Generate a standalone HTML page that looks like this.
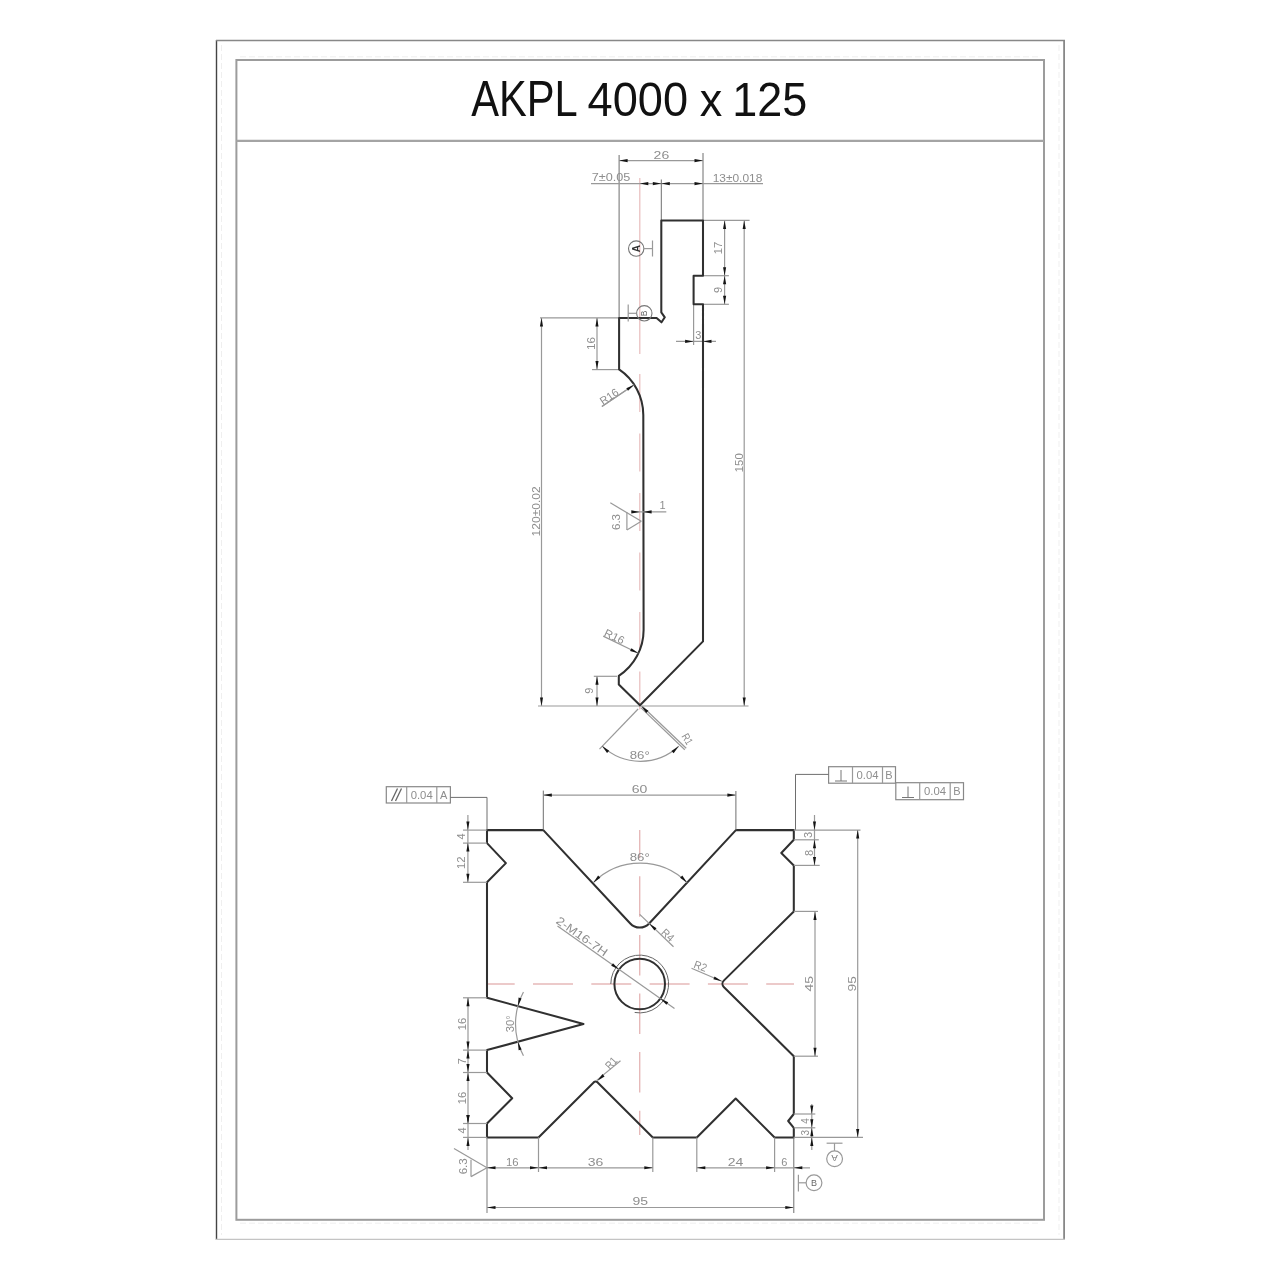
<!DOCTYPE html>
<html><head><meta charset="utf-8"><style>
html,body{margin:0;padding:0;background:#fff;}
svg{display:block;will-change:transform;}
text{font-family:"Liberation Sans",sans-serif;}
</style></head><body>
<svg width="1280" height="1280" viewBox="0 0 1280 1280">
<rect width="1280" height="1280" fill="#fff"/>
<line x1="216.5" y1="40" x2="216.5" y2="1240" stroke="#444" stroke-width="1.4"/><line x1="216" y1="40.5" x2="1065" y2="40.5" stroke="#888" stroke-width="1.3"/><line x1="1064.1" y1="40" x2="1064.1" y2="1240" stroke="#888" stroke-width="1.8"/><line x1="216" y1="1239.4" x2="1065" y2="1239.4" stroke="#c4c4c4" stroke-width="1.3"/><line x1="240" y1="56.8" x2="1040" y2="56.8" stroke="#efefef" stroke-width="1" fill="none" stroke-dasharray="6,3"/><line x1="240" y1="1223.2" x2="1040" y2="1223.2" stroke="#efefef" stroke-width="1" fill="none" stroke-dasharray="6,3"/><line x1="221.5" y1="45" x2="221.5" y2="1235" stroke="#efefef" stroke-width="1" fill="none" stroke-dasharray="6,3"/><line x1="1059" y1="45" x2="1059" y2="1235" stroke="#efefef" stroke-width="1" fill="none" stroke-dasharray="6,3"/><rect x="236.4" y="60" width="807.6" height="1159.8" stroke="#9c9c9c" stroke-width="2" fill="none"/><line x1="236.4" y1="140.9" x2="1044" y2="140.9" stroke="#a4a4a4" stroke-width="2.2"/><text x="471.2" y="115.8" font-size="49.5" fill="#111" font-family="Liberation Sans" textLength="106.5" lengthAdjust="spacingAndGlyphs">AKPL</text><text x="587.6" y="115.8" font-size="47.3" fill="#111" font-family="Liberation Sans" textLength="100.5" lengthAdjust="spacingAndGlyphs">4000</text><text x="699.8" y="115.8" font-size="46.5" fill="#111" font-family="Liberation Sans" textLength="22.5" lengthAdjust="spacingAndGlyphs">x</text><text x="732.2" y="115.8" font-size="47.3" fill="#111" font-family="Liberation Sans" textLength="75" lengthAdjust="spacingAndGlyphs">125</text><line x1="639.8" y1="178" x2="639.8" y2="354" stroke="#e8bcbc" stroke-width="1.2" fill="none"/><line x1="639.8" y1="374" x2="639.8" y2="722" stroke="#e8bcbc" stroke-width="1.2" fill="none" stroke-dasharray="38,21.5"/><line x1="619.1" y1="155" x2="619.1" y2="317.9" stroke="#6e6e6e" stroke-width="1" fill="none"/><line x1="703" y1="153" x2="703" y2="220.4" stroke="#6e6e6e" stroke-width="1" fill="none"/><line x1="619.1" y1="160.6" x2="703" y2="160.6" stroke="#999" stroke-width="1.2" fill="none"/><polygon points="619.1,160.6 627.6,159.05 627.6,162.15" fill="#151515"/><polygon points="703,160.6 694.5,162.15 694.5,159.05" fill="#151515"/><text x="661.4" y="159.16" font-size="11" text-anchor="middle" fill="#8e8e8e" font-family="Liberation Sans" textLength="15.6" lengthAdjust="spacingAndGlyphs">26</text><line x1="591" y1="183.6" x2="763" y2="183.6" stroke="#999" stroke-width="1.2" fill="none"/><line x1="661.3" y1="179.5" x2="661.3" y2="220.4" stroke="#6e6e6e" stroke-width="1" fill="none"/><polygon points="639.8,183.6 648.3,182.05 648.3,185.15" fill="#151515"/><polygon points="661.3,183.6 652.8,185.15 652.8,182.05" fill="#151515"/><polygon points="661.3,183.6 669.8,182.05 669.8,185.15" fill="#151515"/><polygon points="703,183.6 694.5,185.15 694.5,182.05" fill="#151515"/><text x="611" y="181.36" font-size="11" text-anchor="middle" fill="#8e8e8e" font-family="Liberation Sans" textLength="38.6" lengthAdjust="spacingAndGlyphs">7±0.05</text><text x="737.5" y="181.76" font-size="11" text-anchor="middle" fill="#8e8e8e" font-family="Liberation Sans" textLength="49.7" lengthAdjust="spacingAndGlyphs">13±0.018</text><line x1="703" y1="220.4" x2="749.6" y2="220.4" stroke="#999" stroke-width="1.2" fill="none"/><line x1="703" y1="275.7" x2="728.9" y2="275.7" stroke="#999" stroke-width="1.2" fill="none"/><line x1="703" y1="304.3" x2="728.9" y2="304.3" stroke="#999" stroke-width="1.2" fill="none"/><line x1="724.6" y1="220.4" x2="724.6" y2="304.3" stroke="#999" stroke-width="1.2" fill="none"/><polygon points="724.6,220.4 726.15,228.9 723.05,228.9" fill="#151515"/><polygon points="724.6,275.7 723.05,267.2 726.15,267.2" fill="#151515"/><polygon points="724.6,275.7 726.15,284.2 723.05,284.2" fill="#151515"/><polygon points="724.6,304.3 723.05,295.8 726.15,295.8" fill="#151515"/><text x="717.9" y="251.96" font-size="11" text-anchor="middle" fill="#8e8e8e" font-family="Liberation Sans" transform="rotate(-90 717.9 248)" textLength="12.6" lengthAdjust="spacingAndGlyphs">17</text><text x="717.9" y="293.96" font-size="11" text-anchor="middle" fill="#8e8e8e" font-family="Liberation Sans" transform="rotate(-90 717.9 290)">9</text><line x1="744.2" y1="220.4" x2="744.2" y2="706" stroke="#999" stroke-width="1.2" fill="none"/><polygon points="744.2,220.4 745.75,228.9 742.65,228.9" fill="#151515"/><polygon points="744.2,706 742.65,697.5 745.75,697.5" fill="#151515"/><text x="739.4" y="466.66" font-size="11" text-anchor="middle" fill="#8e8e8e" font-family="Liberation Sans" transform="rotate(-90 739.4 462.7)" textLength="19" lengthAdjust="spacingAndGlyphs">150</text><line x1="693.6" y1="304.3" x2="693.6" y2="345" stroke="#999" stroke-width="1.2" fill="none"/><line x1="676" y1="341.4" x2="716" y2="341.4" stroke="#999" stroke-width="1.2" fill="none"/><polygon points="693.6,341.4 685.1,342.95 685.1,339.85" fill="#151515"/><polygon points="703,341.4 711.5,339.85 711.5,342.95" fill="#151515"/><text x="698.3" y="338.86" font-size="11" text-anchor="middle" fill="#8e8e8e" font-family="Liberation Sans">3</text><line x1="540" y1="317.9" x2="619.1" y2="317.9" stroke="#999" stroke-width="1.2" fill="none"/><line x1="592" y1="369.6" x2="619.1" y2="369.6" stroke="#999" stroke-width="1.2" fill="none"/><line x1="597" y1="317.9" x2="597" y2="369.6" stroke="#999" stroke-width="1.2" fill="none"/><polygon points="597,317.9 598.55,326.4 595.45,326.4" fill="#151515"/><polygon points="597,369.6 595.45,361.1 598.55,361.1" fill="#151515"/><text x="591" y="347.46" font-size="11" text-anchor="middle" fill="#8e8e8e" font-family="Liberation Sans" transform="rotate(-90 591 343.5)" textLength="13" lengthAdjust="spacingAndGlyphs">16</text><line x1="541.5" y1="317.9" x2="541.5" y2="706" stroke="#999" stroke-width="1.2" fill="none"/><polygon points="541.5,317.9 543.05,326.4 539.95,326.4" fill="#151515"/><polygon points="541.5,706 539.95,697.5 543.05,697.5" fill="#151515"/><text x="535.8" y="515.36" font-size="11" text-anchor="middle" fill="#8e8e8e" font-family="Liberation Sans" transform="rotate(-90 535.8 511.4)" textLength="50" lengthAdjust="spacingAndGlyphs">120±0.02</text><line x1="538" y1="706" x2="748.5" y2="706" stroke="#999" stroke-width="1.2" fill="none"/><line x1="593.8" y1="676.3" x2="617" y2="676.3" stroke="#999" stroke-width="1.2" fill="none"/><line x1="597" y1="676.3" x2="597" y2="706" stroke="#999" stroke-width="1.2" fill="none"/><polygon points="597,676.3 598.55,684.8 595.45,684.8" fill="#151515"/><polygon points="597,706 595.45,697.5 598.55,697.5" fill="#151515"/><text x="589.5" y="694.66" font-size="11" text-anchor="middle" fill="#8e8e8e" font-family="Liberation Sans" transform="rotate(-90 589.5 690.7)">9</text><path d="M 661.3 220.4 H 703.0 V 275.7 H 693.6 V 304.3 H 703.0 V 641.4 L 640.0 705.3 L 618.8 684.5 V 675.9 A 55 55 0 0 0 643.6 630 L 643.3 415 A 55 55 0 0 0 619.1 369.4 V 317.9 H 656.6 L 661.5 322.3 L 664.8 317.3 L 661.3 312.4 Z" stroke="#303030" stroke-width="2.05" fill="none" stroke-linejoin="round"/><circle cx="636.2" cy="248.6" r="7.7" stroke="#777" stroke-width="1.1" fill="none"/><line x1="643.9" y1="248.6" x2="652.5" y2="248.6" stroke="#999" stroke-width="1.2" fill="none"/><line x1="652.5" y1="240.5" x2="652.5" y2="256.5" stroke="#999" stroke-width="1.2" fill="none"/><text x="636.2" y="252.2" font-size="10" text-anchor="middle" fill="#333" font-family="Liberation Sans" transform="rotate(-90 636.2 248.6)" font-weight="bold">A</text><circle cx="644.3" cy="313.3" r="7.7" stroke="#777" stroke-width="1.1" fill="none"/><line x1="636.6" y1="313.3" x2="628.2" y2="313.3" stroke="#999" stroke-width="1.2" fill="none"/><line x1="628.2" y1="304.5" x2="628.2" y2="321.5" stroke="#999" stroke-width="1.2" fill="none"/><text x="644.3" y="316.36" font-size="8.5" text-anchor="middle" fill="#666" font-family="Liberation Sans" transform="rotate(-90 644.3 313.3)">B</text><line x1="634.2" y1="384.7" x2="601.9" y2="406.5" stroke="#999" stroke-width="1.2" fill="none"/><line x1="601.9" y1="406.5" x2="626" y2="390.3" stroke="#999" stroke-width="1.2" fill="none"/><polygon points="634.2,384.7 628.02,390.74 626.29,388.17" fill="#151515"/><text x="609" y="400.46" font-size="11" text-anchor="middle" fill="#8e8e8e" font-family="Liberation Sans" transform="rotate(-34 609 396.5)" textLength="20" lengthAdjust="spacingAndGlyphs">R16</text><line x1="638.4" y1="653.3" x2="603.2" y2="636.1" stroke="#999" stroke-width="1.2" fill="none"/><polygon points="638.4,653.3 630.08,650.96 631.44,648.17" fill="#151515"/><text x="614.5" y="640.46" font-size="11" text-anchor="middle" fill="#8e8e8e" font-family="Liberation Sans" transform="rotate(26 614.5 636.5)" textLength="21" lengthAdjust="spacingAndGlyphs">R16</text><line x1="610.3" y1="502.8" x2="641.3" y2="521.3" stroke="#999" stroke-width="1.2" fill="none"/><line x1="641.3" y1="521.3" x2="626.9" y2="530" stroke="#999" stroke-width="1.2" fill="none"/><line x1="626.9" y1="512.2" x2="626.9" y2="530" stroke="#999" stroke-width="1.2" fill="none"/><text x="616.5" y="525.96" font-size="11" text-anchor="middle" fill="#8e8e8e" font-family="Liberation Sans" transform="rotate(-90 616.5 522)" textLength="16" lengthAdjust="spacingAndGlyphs">6.3</text><line x1="631.9" y1="511.9" x2="666.3" y2="511.9" stroke="#999" stroke-width="1.2" fill="none"/><polygon points="639.8,511.9 631.3,513.45 631.3,510.35" fill="#151515"/><polygon points="643.1,511.9 651.6,510.35 651.6,513.45" fill="#151515"/><text x="662.5" y="509.46" font-size="11" text-anchor="middle" fill="#8e8e8e" font-family="Liberation Sans">1</text><line x1="638.1" y1="709" x2="599.5" y2="749.2" stroke="#999" stroke-width="1.2" fill="none"/><line x1="642.2" y1="706.2" x2="686.2" y2="748.3" stroke="#999" stroke-width="1.2" fill="none"/><line x1="640.8" y1="707.6" x2="684.8" y2="749.7" stroke="#999" stroke-width="1.2" fill="none"/><polygon points="641.2,706 648.41,710.76 646.26,713" fill="#151515"/><path d="M 602 745.9 A 56 56 0 0 0 678.7 746.3" stroke="#999" stroke-width="1.2" fill="none"/><polygon points="602,745.9 609.21,750.66 607.06,752.9" fill="#151515"/><polygon points="678.7,746.3 673.64,753.3 671.49,751.06" fill="#151515"/><text x="639.7" y="759.46" font-size="11" text-anchor="middle" fill="#8e8e8e" font-family="Liberation Sans" textLength="20" lengthAdjust="spacingAndGlyphs">86°</text><text x="687.5" y="742.96" font-size="11" text-anchor="middle" fill="#8e8e8e" font-family="Liberation Sans" transform="rotate(60 687.5 739)" textLength="11" lengthAdjust="spacingAndGlyphs">R1</text><line x1="488" y1="984" x2="794" y2="984" stroke="#e6b9b9" stroke-width="1.4" fill="none" stroke-dasharray="40,18.3" stroke-dashoffset="13.3"/><line x1="639.7" y1="830" x2="639.7" y2="1135" stroke="#e6b9b9" stroke-width="1.4" fill="none" stroke-dasharray="40.5,18.1" stroke-dashoffset="12.3"/><path d="M 487.0 830.1 H 543.3 L 630.27 923.48 A 12.9 12.9 0 0 0 649.13 923.48 L 735.9 830.1 H 793.8 V 839.8 L 781.3 853 L 793.8 865.4 V 911.4 L 723.78 980.62 A 4.5 4.5 0 0 0 723.78 986.98 L 793.8 1056.2 V 1114 L 788.2 1121 L 793.8 1127.8 V 1137.4 H 774.6 L 735.7 1098.6 L 696.8 1137.4 H 652.8 L 597.65 1082.4 Q 595.65 1080.7 593.65 1082.4 L 538.5 1137.4 H 487.0 V 1123.5 L 512.2 1098.3 L 487.0 1072.5 V 1050.1 L 583.5 1023.9 L 487.0 997.8 V 882.3 L 505.9 863.1 L 487.0 843.1 Z" stroke="#303030" stroke-width="2.05" fill="none" stroke-linejoin="round"/><circle cx="639.7" cy="984" r="25.3" stroke="#303030" stroke-width="2" fill="none"/><path d="M 610.8 984 A 28.9 28.9 0 1 1 634.68 1012.46" stroke="#666" stroke-width="1" fill="none"/><line x1="557.5" y1="926" x2="674.5" y2="1008.5" stroke="#999" stroke-width="1.2" fill="none"/><polygon points="619.03,969.43 611.19,965.8 612.98,963.26" fill="#151515"/><polygon points="660.37,998.57 668.21,1002.2 666.42,1004.74" fill="#151515"/><text x="582.2" y="940.44" font-size="11.5" text-anchor="middle" fill="#8e8e8e" font-family="Liberation Sans" transform="rotate(35.2 582.2 936.3)" textLength="60" lengthAdjust="spacingAndGlyphs">2-M16-7H</text><line x1="639.7" y1="914.4" x2="673.5" y2="946.8" stroke="#999" stroke-width="1.2" fill="none"/><polygon points="649.2,923.6 656.53,928.18 654.44,930.47" fill="#151515"/><text x="668" y="938.96" font-size="11" text-anchor="middle" fill="#8e8e8e" font-family="Liberation Sans" transform="rotate(42 668 935)" textLength="13" lengthAdjust="spacingAndGlyphs">R4</text><line x1="691.5" y1="968.2" x2="721.8" y2="981.2" stroke="#999" stroke-width="1.2" fill="none"/><polygon points="721.8,981.2 713.37,979.31 714.58,976.46" fill="#151515"/><text x="700.5" y="969.96" font-size="11" text-anchor="middle" fill="#8e8e8e" font-family="Liberation Sans" transform="rotate(20 700.5 966)" textLength="13" lengthAdjust="spacingAndGlyphs">R2</text><line x1="596.65" y1="1080.4" x2="620.5" y2="1060.8" stroke="#999" stroke-width="1.2" fill="none"/><polygon points="597.15,1080.9 602.51,1074.12 604.56,1076.45" fill="#151515"/><text x="611" y="1066.96" font-size="11" text-anchor="middle" fill="#8e8e8e" font-family="Liberation Sans" transform="rotate(-48 611 1063)" textLength="12" lengthAdjust="spacingAndGlyphs">R1</text><path d="M 593.3 882.7 A 66 66 0 0 1 687.1 882.7" stroke="#999" stroke-width="1.2" fill="none"/><polygon points="593.3,882.7 598.11,875.53 600.34,877.69" fill="#151515"/><polygon points="687.1,882.7 680.06,877.69 682.29,875.53" fill="#151515"/><text x="639.7" y="861.36" font-size="11" text-anchor="middle" fill="#8e8e8e" font-family="Liberation Sans" textLength="20" lengthAdjust="spacingAndGlyphs">86°</text><path d="M 523.46 991.98 A 68 68 0 0 0 523.46 1055.82" stroke="#999" stroke-width="1.2" fill="none"/><polygon points="517.85,1006.19 518.56,997.57 521.55,998.38" fill="#151515"/><polygon points="517.88,1041.73 521.6,1049.53 518.61,1050.34" fill="#151515"/><text x="509.6" y="1027.76" font-size="11" text-anchor="middle" fill="#8e8e8e" font-family="Liberation Sans" transform="rotate(-90 509.6 1023.8)" textLength="17" lengthAdjust="spacingAndGlyphs">30°</text><line x1="463" y1="830.1" x2="487" y2="830.1" stroke="#999" stroke-width="1.2" fill="none"/><line x1="463" y1="843.1" x2="487" y2="843.1" stroke="#999" stroke-width="1.2" fill="none"/><line x1="463" y1="882.3" x2="487" y2="882.3" stroke="#999" stroke-width="1.2" fill="none"/><line x1="463" y1="997.8" x2="487" y2="997.8" stroke="#999" stroke-width="1.2" fill="none"/><line x1="463" y1="1050.1" x2="487" y2="1050.1" stroke="#999" stroke-width="1.2" fill="none"/><line x1="463" y1="1072.5" x2="487" y2="1072.5" stroke="#999" stroke-width="1.2" fill="none"/><line x1="463" y1="1123.5" x2="487" y2="1123.5" stroke="#999" stroke-width="1.2" fill="none"/><line x1="463" y1="1137.4" x2="487" y2="1137.4" stroke="#999" stroke-width="1.2" fill="none"/><line x1="467.9" y1="815" x2="467.9" y2="882.3" stroke="#999" stroke-width="1.2" fill="none"/><polygon points="467.9,830.1 466.35,821.6 469.45,821.6" fill="#151515"/><polygon points="467.9,843.1 469.45,851.6 466.35,851.6" fill="#151515"/><polygon points="467.9,882.3 466.35,873.8 469.45,873.8" fill="#151515"/><text x="461" y="840.46" font-size="11" text-anchor="middle" fill="#8e8e8e" font-family="Liberation Sans" transform="rotate(-90 461 836.5)">4</text><text x="461" y="866.66" font-size="11" text-anchor="middle" fill="#8e8e8e" font-family="Liberation Sans" transform="rotate(-90 461 862.7)" textLength="12.6" lengthAdjust="spacingAndGlyphs">12</text><line x1="468" y1="997.8" x2="468" y2="1150" stroke="#999" stroke-width="1.2" fill="none"/><polygon points="468,997.8 469.55,1006.3 466.45,1006.3" fill="#151515"/><polygon points="468,1050.1 466.45,1041.6 469.55,1041.6" fill="#151515"/><polygon points="468,1050.1 469.55,1058.6 466.45,1058.6" fill="#151515"/><polygon points="468,1072.5 466.45,1064 469.55,1064" fill="#151515"/><polygon points="468,1072.5 469.55,1081 466.45,1081" fill="#151515"/><polygon points="468,1123.5 466.45,1115 469.55,1115" fill="#151515"/><polygon points="468,1123.5 466.45,1115 469.55,1115" fill="#151515"/><polygon points="468,1137.4 469.55,1145.9 466.45,1145.9" fill="#151515"/><text x="462.3" y="1027.96" font-size="11" text-anchor="middle" fill="#8e8e8e" font-family="Liberation Sans" transform="rotate(-90 462.3 1024)" textLength="12.6" lengthAdjust="spacingAndGlyphs">16</text><text x="462.3" y="1065.26" font-size="11" text-anchor="middle" fill="#8e8e8e" font-family="Liberation Sans" transform="rotate(-90 462.3 1061.3)">7</text><text x="462.3" y="1101.96" font-size="11" text-anchor="middle" fill="#8e8e8e" font-family="Liberation Sans" transform="rotate(-90 462.3 1098)" textLength="12.6" lengthAdjust="spacingAndGlyphs">16</text><text x="462.3" y="1134.46" font-size="11" text-anchor="middle" fill="#8e8e8e" font-family="Liberation Sans" transform="rotate(-90 462.3 1130.5)">4</text><rect x="386.3" y="786.7" width="64.1" height="16.3" fill="none" stroke="#888" stroke-width="1.2"/><line x1="406.7" y1="786.7" x2="406.7" y2="803" stroke="#999" stroke-width="1.2" fill="none"/><line x1="436.8" y1="786.7" x2="436.8" y2="803" stroke="#999" stroke-width="1.2" fill="none"/><line x1="391.5" y1="801" x2="397.5" y2="788.5" stroke="#666" stroke-width="1.3"/><line x1="395.5" y1="801" x2="401.5" y2="788.5" stroke="#666" stroke-width="1.3"/><text x="421.7" y="798.86" font-size="11" text-anchor="middle" fill="#8e8e8e" font-family="Liberation Sans" textLength="22" lengthAdjust="spacingAndGlyphs">0.04</text><text x="443.6" y="798.86" font-size="11" text-anchor="middle" fill="#8e8e8e" font-family="Liberation Sans">A</text><line x1="450.4" y1="797.4" x2="487" y2="797.4" stroke="#6e6e6e" stroke-width="1" fill="none"/><line x1="487" y1="797.4" x2="487" y2="830.1" stroke="#6e6e6e" stroke-width="1" fill="none"/><line x1="543.3" y1="790.6" x2="543.3" y2="830.1" stroke="#6e6e6e" stroke-width="1" fill="none"/><line x1="735.9" y1="791" x2="735.9" y2="830.1" stroke="#6e6e6e" stroke-width="1" fill="none"/><line x1="543.3" y1="795.1" x2="735.9" y2="795.1" stroke="#999" stroke-width="1.2" fill="none"/><polygon points="543.3,795.1 551.8,793.55 551.8,796.65" fill="#151515"/><polygon points="735.9,795.1 727.4,796.65 727.4,793.55" fill="#151515"/><text x="639.6" y="792.96" font-size="11" text-anchor="middle" fill="#8e8e8e" font-family="Liberation Sans" textLength="15.6" lengthAdjust="spacingAndGlyphs">60</text><rect x="828.6" y="766.7" width="66.9" height="16.5" fill="none" stroke="#888" stroke-width="1.2"/><line x1="852.5" y1="766.7" x2="852.5" y2="783.2" stroke="#999" stroke-width="1.2" fill="none"/><line x1="882.5" y1="766.7" x2="882.5" y2="783.2" stroke="#999" stroke-width="1.2" fill="none"/><line x1="835" y1="781" x2="847" y2="781" stroke="#777" stroke-width="1"/><line x1="841" y1="770" x2="841" y2="781" stroke="#777" stroke-width="1"/><text x="867.5" y="778.86" font-size="11" text-anchor="middle" fill="#8e8e8e" font-family="Liberation Sans" textLength="22" lengthAdjust="spacingAndGlyphs">0.04</text><text x="889" y="778.86" font-size="11" text-anchor="middle" fill="#8e8e8e" font-family="Liberation Sans">B</text><rect x="895.8" y="782.7" width="67.7" height="17" fill="none" stroke="#888" stroke-width="1.2"/><line x1="919.7" y1="782.7" x2="919.7" y2="799.7" stroke="#999" stroke-width="1.2" fill="none"/><line x1="950.2" y1="782.7" x2="950.2" y2="799.7" stroke="#999" stroke-width="1.2" fill="none"/><line x1="902" y1="797.5" x2="914" y2="797.5" stroke="#777" stroke-width="1"/><line x1="908" y1="786.5" x2="908" y2="797.5" stroke="#777" stroke-width="1"/><text x="935" y="795.16" font-size="11" text-anchor="middle" fill="#8e8e8e" font-family="Liberation Sans" textLength="22" lengthAdjust="spacingAndGlyphs">0.04</text><text x="957" y="795.16" font-size="11" text-anchor="middle" fill="#8e8e8e" font-family="Liberation Sans">B</text><line x1="828.6" y1="774.4" x2="795.5" y2="774.4" stroke="#6e6e6e" stroke-width="1" fill="none"/><line x1="795.5" y1="774.4" x2="795.5" y2="830.1" stroke="#6e6e6e" stroke-width="1" fill="none"/><line x1="793.8" y1="830.1" x2="860.5" y2="830.1" stroke="#999" stroke-width="1.2" fill="none"/><line x1="793.8" y1="839.8" x2="818.8" y2="839.8" stroke="#999" stroke-width="1.2" fill="none"/><line x1="793.8" y1="865.4" x2="819.7" y2="865.4" stroke="#999" stroke-width="1.2" fill="none"/><line x1="814.5" y1="815" x2="814.5" y2="865.4" stroke="#999" stroke-width="1.2" fill="none"/><polygon points="814.5,830.1 812.95,821.6 816.05,821.6" fill="#151515"/><polygon points="814.5,839.8 816.05,848.3 812.95,848.3" fill="#151515"/><polygon points="814.5,865.4 812.95,856.9 816.05,856.9" fill="#151515"/><text x="808" y="838.86" font-size="11" text-anchor="middle" fill="#8e8e8e" font-family="Liberation Sans" transform="rotate(-90 808 834.9)">3</text><text x="809" y="856.96" font-size="11" text-anchor="middle" fill="#8e8e8e" font-family="Liberation Sans" transform="rotate(-90 809 853)">8</text><line x1="793.8" y1="911.4" x2="818" y2="911.4" stroke="#999" stroke-width="1.2" fill="none"/><line x1="793.8" y1="1056.2" x2="818" y2="1056.2" stroke="#999" stroke-width="1.2" fill="none"/><line x1="815" y1="911.4" x2="815" y2="1056.2" stroke="#999" stroke-width="1.2" fill="none"/><polygon points="815,911.4 816.55,919.9 813.45,919.9" fill="#151515"/><polygon points="815,1056.2 813.45,1047.7 816.55,1047.7" fill="#151515"/><text x="808.6" y="987.94" font-size="11.5" text-anchor="middle" fill="#8e8e8e" font-family="Liberation Sans" transform="rotate(-90 808.6 983.8)" textLength="15.5" lengthAdjust="spacingAndGlyphs">45</text><line x1="857.7" y1="830.1" x2="857.7" y2="1137.4" stroke="#999" stroke-width="1.2" fill="none"/><line x1="793.8" y1="1137.4" x2="863" y2="1137.4" stroke="#999" stroke-width="1.2" fill="none"/><polygon points="857.7,830.1 859.25,838.6 856.15,838.6" fill="#151515"/><polygon points="857.7,1137.4 856.15,1128.9 859.25,1128.9" fill="#151515"/><text x="851.5" y="987.94" font-size="11.5" text-anchor="middle" fill="#8e8e8e" font-family="Liberation Sans" transform="rotate(-90 851.5 983.8)" textLength="15.3" lengthAdjust="spacingAndGlyphs">95</text><line x1="793.8" y1="1114" x2="815.3" y2="1114" stroke="#999" stroke-width="1.2" fill="none"/><line x1="793.8" y1="1127.8" x2="815.3" y2="1127.8" stroke="#999" stroke-width="1.2" fill="none"/><line x1="811.8" y1="1104" x2="811.8" y2="1150" stroke="#999" stroke-width="1.2" fill="none"/><polygon points="811.8,1114 810.25,1105.5 813.35,1105.5" fill="#151515"/><polygon points="811.8,1127.8 813.35,1136.3 810.25,1136.3" fill="#151515"/><polygon points="811.8,1127.8 810.25,1119.3 813.35,1119.3" fill="#151515"/><polygon points="811.8,1137.4 813.35,1145.9 810.25,1145.9" fill="#151515"/><text x="805.5" y="1124.5" font-size="10" text-anchor="middle" fill="#8e8e8e" font-family="Liberation Sans" transform="rotate(-90 805.5 1120.9)">4</text><text x="805.5" y="1136.2" font-size="10" text-anchor="middle" fill="#8e8e8e" font-family="Liberation Sans" transform="rotate(-90 805.5 1132.6)">3</text><line x1="538.5" y1="1137.4" x2="538.5" y2="1172" stroke="#999" stroke-width="1.2" fill="none"/><line x1="652.8" y1="1137.4" x2="652.8" y2="1172" stroke="#999" stroke-width="1.2" fill="none"/><line x1="696.8" y1="1137.4" x2="696.8" y2="1172" stroke="#999" stroke-width="1.2" fill="none"/><line x1="774.6" y1="1137.4" x2="774.6" y2="1172" stroke="#999" stroke-width="1.2" fill="none"/><line x1="487" y1="1137.4" x2="487" y2="1213" stroke="#888" stroke-width="1.1" fill="none"/><line x1="793.8" y1="1137.4" x2="793.8" y2="1213" stroke="#6e6e6e" stroke-width="1" fill="none"/><line x1="487" y1="1167.8" x2="652.8" y2="1167.8" stroke="#999" stroke-width="1.2" fill="none"/><line x1="696.8" y1="1167.8" x2="810" y2="1167.8" stroke="#999" stroke-width="1.2" fill="none"/><polygon points="487,1167.8 495.5,1166.25 495.5,1169.35" fill="#151515"/><polygon points="538.5,1167.8 530,1169.35 530,1166.25" fill="#151515"/><polygon points="538.5,1167.8 547,1166.25 547,1169.35" fill="#151515"/><polygon points="652.8,1167.8 644.3,1169.35 644.3,1166.25" fill="#151515"/><polygon points="696.8,1167.8 705.3,1166.25 705.3,1169.35" fill="#151515"/><polygon points="774.6,1167.8 766.1,1169.35 766.1,1166.25" fill="#151515"/><polygon points="793.8,1167.8 802.3,1166.25 802.3,1169.35" fill="#151515"/><text x="512.2" y="1165.76" font-size="11" text-anchor="middle" fill="#8e8e8e" font-family="Liberation Sans" textLength="12.6" lengthAdjust="spacingAndGlyphs">16</text><text x="595.6" y="1165.76" font-size="11" text-anchor="middle" fill="#8e8e8e" font-family="Liberation Sans" textLength="15.6" lengthAdjust="spacingAndGlyphs">36</text><text x="735.6" y="1165.76" font-size="11" text-anchor="middle" fill="#8e8e8e" font-family="Liberation Sans" textLength="15.6" lengthAdjust="spacingAndGlyphs">24</text><text x="784.4" y="1165.76" font-size="11" text-anchor="middle" fill="#8e8e8e" font-family="Liberation Sans">6</text><line x1="487" y1="1207.5" x2="793.8" y2="1207.5" stroke="#999" stroke-width="1.2" fill="none"/><polygon points="487,1207.5 495.5,1205.95 495.5,1209.05" fill="#151515"/><polygon points="793.8,1207.5 785.3,1209.05 785.3,1205.95" fill="#151515"/><text x="640.3" y="1205.16" font-size="11" text-anchor="middle" fill="#8e8e8e" font-family="Liberation Sans" textLength="15.6" lengthAdjust="spacingAndGlyphs">95</text><line x1="454" y1="1148.4" x2="487" y2="1167.8" stroke="#999" stroke-width="1.2" fill="none"/><line x1="487" y1="1167.8" x2="471" y2="1176.6" stroke="#999" stroke-width="1.2" fill="none"/><line x1="471" y1="1159.7" x2="471" y2="1176.6" stroke="#999" stroke-width="1.2" fill="none"/><text x="463.4" y="1170.26" font-size="11" text-anchor="middle" fill="#8e8e8e" font-family="Liberation Sans" transform="rotate(-90 463.4 1166.3)" textLength="16" lengthAdjust="spacingAndGlyphs">6.3</text><line x1="826.6" y1="1143.2" x2="842.5" y2="1143.2" stroke="#999" stroke-width="1.2" fill="none"/><line x1="834.5" y1="1143.2" x2="834.5" y2="1151" stroke="#999" stroke-width="1.2" fill="none"/><circle cx="834.6" cy="1158.8" r="7.9" stroke="#999" stroke-width="1.2" fill="none"/><text x="834.6" y="1162.22" font-size="9.5" text-anchor="middle" fill="#666" font-family="Liberation Sans" transform="rotate(180 834.6 1158.8)">A</text><line x1="798.4" y1="1174.7" x2="798.4" y2="1191.6" stroke="#999" stroke-width="1.2" fill="none"/><line x1="798.4" y1="1182.8" x2="806.1" y2="1182.8" stroke="#999" stroke-width="1.2" fill="none"/><circle cx="814" cy="1182.8" r="7.9" stroke="#999" stroke-width="1.2" fill="none"/><text x="814" y="1186.04" font-size="9" text-anchor="middle" fill="#666" font-family="Liberation Sans">B</text>
</svg>
</body></html>
